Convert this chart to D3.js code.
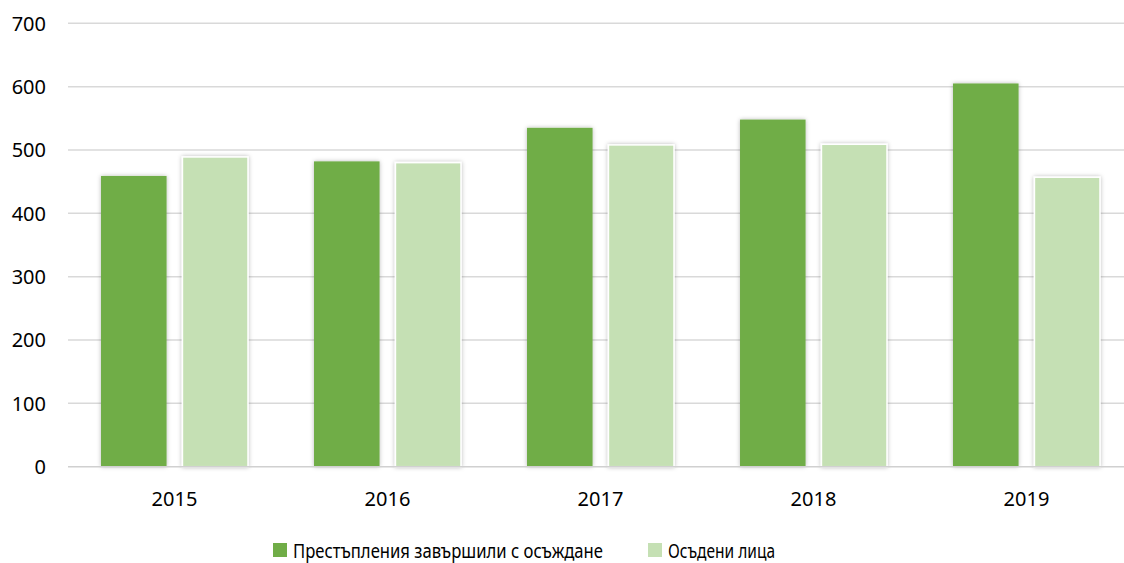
<!DOCTYPE html>
<html>
<head>
<meta charset="utf-8">
<script src="https://cdn.jsdelivr.net/npm/d3@7"></script>
<style>
  html, body { margin: 0; padding: 0; background: #fff; }
  svg { display: block; font-family: "Noto Sans", "Open Sans", sans-serif; }
</style>
</head>
<body>
<svg id="chart" width="1124" height="563"></svg>
<script>
const years = ['2015', '2016', '2017', '2018', '2019'];
const seriesNames = ['Престъпления завършили с осъждане', 'Осъдени лица'];
const crimesConvicted = [459, 482, 535, 548, 605];
const convictedPersons = [489, 480, 508, 509, 457];
const yTicks = [0, 100, 200, 300, 400, 500, 600, 700];

const colors = ['#70AD47', '#C5E0B4'];
const seriesValues = [crimesConvicted, convictedPersons];

const svg = d3.select('#chart');
const margin = { left: 68, top: 23.3, bottom: 96.3 };
const plotRight = 1133;
const height = 563;

const x = d3.scaleBand().domain(years).range([margin.left, plotRight])
  .paddingInner(0.31).paddingOuter(0.155);
const xs = d3.scaleBand().domain([0, 1]).range([0, x.bandwidth()]).paddingInner(0.195);
const y = d3.scaleLinear().domain([0, 700]).range([height - margin.bottom, margin.top]);

// soft shadow like the office chart
const defs = svg.append('defs');
const f = defs.append('filter').attr('id', 'shadow').attr('x', '-20%').attr('y', '-5%').attr('width', '140%').attr('height', '110%');
f.append('feDropShadow').attr('dx', 0).attr('dy', 0).attr('stdDeviation', 2.2)
  .attr('flood-color', '#000').attr('flood-opacity', 0.28);

// gridlines
svg.append('g').selectAll('line').data(yTicks.filter(d => d > 0)).enter().append('line')
  .attr('x1', margin.left).attr('x2', plotRight)
  .attr('y1', d => y(d)).attr('y2', d => y(d))
  .attr('stroke', '#d9d9d9').attr('stroke-width', 1.5);

// y tick labels
svg.append('g').selectAll('text').data(yTicks).enter().append('text')
  .attr('x', 46).attr('y', d => y(d)).attr('dy', '0.36em')
  .attr('text-anchor', 'end').attr('font-size', 20).attr('fill', '#000')
  .text(d => d);

// bars
const groups = svg.append('g').selectAll('g').data(years).enter().append('g')
  .attr('transform', d => `translate(${x(d)},0)`);
groups.selectAll('rect').data((yr, i) => seriesValues.map((vals, s) => ({ s, v: vals[i] }))).enter().append('rect')
  .attr('x', d => xs(d.s)).attr('width', xs.bandwidth())
  .attr('y', d => y(d.v)).attr('height', d => y(0) - y(d.v))
  .attr('fill', d => colors[d.s])
  .attr('stroke', d => d.s === 1 ? '#fff' : 'none').attr('stroke-width', 1.5)
  .attr('filter', 'url(#shadow)');

// x axis line
svg.append('line').attr('x1', margin.left).attr('x2', plotRight)
  .attr('y1', y(0)).attr('y2', y(0))
  .attr('stroke', '#d0d0d0').attr('stroke-width', 1.5);

// x labels
svg.append('g').selectAll('text').data(years).enter().append('text')
  .attr('x', d => x(d) + x.bandwidth() / 2).attr('y', 506)
  .attr('text-anchor', 'middle').attr('font-size', 20).attr('fill', '#000')
  .text(d => d);

// legend (Calibri-like narrow text, squeezed to the original widths)
const legend = svg.append('g');
const legendX = [273, 648];
const legendTextLen = [310, 107];
seriesNames.forEach((name, i) => {
  legend.append('rect').attr('x', legendX[i]).attr('y', 543).attr('width', 14).attr('height', 14).attr('fill', colors[i]);
  legend.append('text').attr('x', legendX[i] + 20).attr('y', 557.5)
    .attr('font-size', 20).attr('fill', '#000')
    .attr('textLength', legendTextLen[i]).attr('lengthAdjust', 'spacingAndGlyphs')
    .text(name);
});
</script>
</body>
</html>
